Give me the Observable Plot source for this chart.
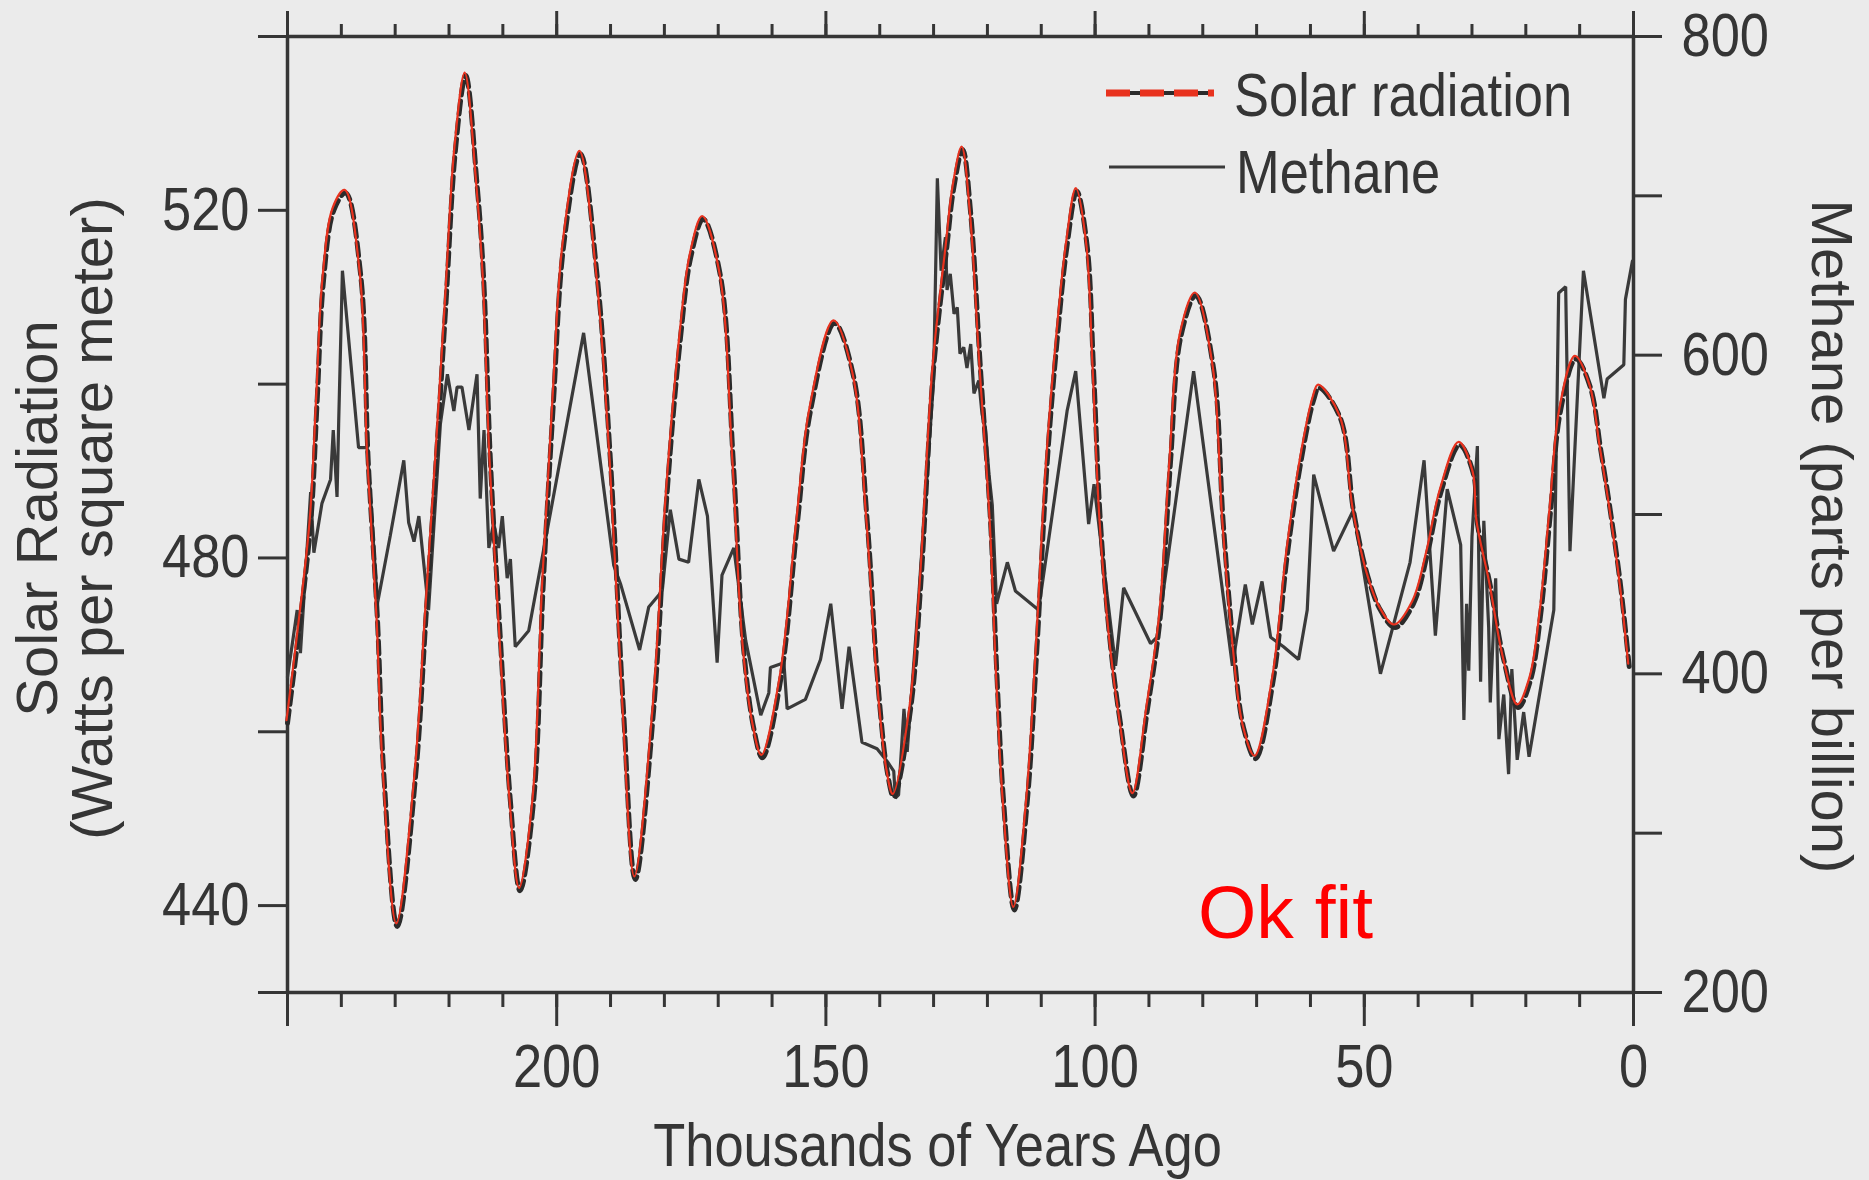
<!DOCTYPE html>
<html><head><meta charset="utf-8">
<script src="https://cdn.jsdelivr.net/npm/d3@7"></script>
<script src="https://cdn.jsdelivr.net/npm/@observablehq/plot@0.6"></script>
<style>
html,body{margin:0;padding:0;background:#ebebeb;width:1869px;height:1180px;overflow:hidden;}
#wrap{position:relative;width:1869px;height:1180px;}
#chart{position:absolute;left:0;top:0;}
#overlay{position:absolute;left:0;top:0;pointer-events:none;}
</style></head>
<body><div id="wrap"><div id="chart"></div>
<svg id="overlay" width="1869" height="1180"></svg></div>
<script>
// ---------- data ----------
const solarAge = [250,248.2,245.7,244.5,243.3,241.4,239.2,236.4,235,233.3,232.1,229.6,226.2,224.3,222.4,220.6,218.8,216.9,214.8,213.6,212.3,210.4,208.6,206.8,204.3,202.5,200.6,198.7,195.6,192.5,190,187.6,185.4,182,179.5,177,175.1,172.8,169.6,167.2,165.3,163.4,161.8,158.4,155.3,152.9,148.4,144.9,142.3,140.4,138.6,137.4,134.3,132.4,130,127.5,126.3,124.6,123.1,121.3,119.4,118.2,117,115,112.6,110.8,108.9,107,105.2,103.4,101.5,100.3,99,97.1,95.3,92.9,90.3,87.9,86,84.1,81.3,78,76.2,74.3,72.4,70.2,66.9,64.3,61.8,59.4,58.4,54.4,52,49.5,47,44.3,40.9,38.3,35.8,32.3,29.7,29,26.6,24.1,21.4,19.1,17.3,15.4,13.6,10.7,8,6.1,4.3,2.4,0.8];
const solarValue = [461,470,484,498,512,520,522,512.5,491,473,455,437.6,455,473,491,509,527,535.5,523,512.5,491,470,452,441.7,452,477,498,516,526.5,512.5,491,462.5,443,462.5,487.5,505.4,514.6,519,512.5,491,469.7,460.4,457,466,484,496.8,507,501,484,466,455.4,452.5,462.5,476.8,501.8,516,522.4,527,519.6,501.8,484,466,452,439.5,452,469.7,491,505.4,516,522.2,516,501.8,484,469.7,461,452.6,462.5,473.2,491,505.4,510.2,501.8,484,469.7,460.4,456.9,466,480.4,491,498.2,499.6,496,485.4,478.2,474,472,474.7,480.4,487.5,493,489.6,484,476.8,468.3,462.8,466,473.2,485.4,496.8,502.9,499.6,492.5,485.4,476.8,467.5];

const methaneAge = [250,248.2,247.6,245.7,245.1,243.6,242,241.5,240.8,240.5,239.8,236.8,235.2,233.3,230.9,228.4,227.5,226.5,225.6,223.8,221.6,220.3,219.1,218.5,217.6,216.3,214.8,214.2,213.5,212.6,211.7,210.8,210.1,209.2,208.6,207.7,205.2,195,189.4,188.1,184.6,182.9,180.4,178.9,177.3,175.5,173.6,172,170.2,169.3,167.1,164.9,162.1,160.6,160.3,157.8,157.2,153.8,151,149.1,147,145.7,143.3,140.5,138.6,137.4,137.1,136.5,135.5,134.9,133,130,129.3,128.6,127.8,127.5,126.9,126.2,125.6,125.1,124.4,123.8,123.1,122.5,121.6,121,120.4,119.7,119.1,118.3,116.3,114.8,110.5,105.2,103.6,101.2,100.2,96.2,94.7,89.7,88.5,81.7,74.5,72.1,70.8,69,67.4,65,62.2,60.6,59.4,55.7,52,47,41.5,38.9,36.8,34.6,32.1,31.5,31,30.6,30,29,28.7,28.4,27.8,26.9,26.6,25.6,25,24.1,23.2,22.6,21.6,20.4,19.4,14.8,13.9,12.6,11.8,9.3,5.5,4.9,1.8,1.5,0.2];
const methanePpb = [398,440,413,514,476,507,522,553,511,557,653,542,542,444,487,534,495,483,499,440,557,588,565,580,580,553,588,510,553,479,495,479,499,460,472,417,427,614,468,456,415,442,452,503,472,470,522,499,407,462,479,421,374,388,404,407,378,384,409,444,378,417,357,353,345,339,322,324,378,351,437,584,711,653,674,641,651,626,630,601,605,592,607,576,584,563,555,525,506,444,470,452,440,565,590,494,519,405,454,419,423,590,405,456,431,458,423,417,409,440,525,477,503,400,470,534,424,516,481,371,444,402,486,543,460,395,496,429,382,460,359,387,337,403,346,376,348,440,639,643,477,653,573,585,594,635,659];

const xDomain = [250, 0];
const solarDomain = [430, 540];
const methaneDomain = [200, 800];
const xMinorTicks = d3.range(0, 251, 10);
const xMajorTicks = [0, 50, 100, 150, 200, 250];
const xLabelTicks = [0, 50, 100, 150, 200];
const solarTicks = [430, 440, 460, 480, 500, 520, 540];
const solarLabelTicks = [440, 480, 520];
const methaneTicks = [200, 300, 400, 500, 600, 700, 800];
const methaneLabelTicks = [200, 400, 600, 800];

const xTitle = "Thousands of Years Ago";
const leftTitle = "Solar Radiation\n(Watts per square meter)";
const rightTitle = "Methane (parts per billion)";
const legendLabels = ["Solar radiation", "Methane"];
const noteText = "Ok fit";

// ---------- build tables ----------
if (solarAge.length !== solarValue.length) throw new Error("solar length mismatch");
if (methaneAge.length !== methanePpb.length) throw new Error("methane length mismatch");
const toSolar = m => solarDomain[0] + (m - methaneDomain[0]) * (solarDomain[1] - solarDomain[0]) / (methaneDomain[1] - methaneDomain[0]);
const solar = solarAge.map((a, i) => ({age: a, value: solarValue[i]}));
const methane = methaneAge.map((a, i) => ({age: a, ppb: methanePpb[i]}));

const FONT = '"Liberation Sans",Arial,Helvetica,sans-serif';
const NARROW_SCALE = 0.86;
const INK = "#353535";
const RED = "#e8321e";

const blank = () => "";
const chart = Plot.plot({
  width: 1869, height: 1180,
  marginLeft: 287, marginRight: 236, marginTop: 36, marginBottom: 188,
  x: {domain: xDomain},
  y: {domain: solarDomain},
  style: {background: "transparent", fontFamily: FONT, fontSize: "61px", color: INK, overflow: "visible"},
  marks: [
    // top ticks
    Plot.axisX({anchor: "top", ticks: xMinorTicks, tickSize: 13, tickFormat: blank, strokeWidth: 3, label: null}),
    Plot.axisX({anchor: "top", ticks: xMajorTicks, tickSize: 26, tickFormat: blank, strokeWidth: 3, label: null}),
    // bottom ticks
    Plot.axisX({anchor: "bottom", ticks: xMinorTicks, tickSize: 15, tickFormat: blank, strokeWidth: 3, label: null}),
    Plot.axisX({anchor: "bottom", ticks: xMajorTicks, tickSize: 34, tickPadding: 17, strokeWidth: 3, label: null,
      tickFormat: d => xLabelTicks.includes(d) ? String(d) : ""}),
    // left axis
    Plot.axisY({anchor: "left", ticks: solarTicks, tickSize: 29, tickPadding: 9, strokeWidth: 3, label: null,
      tickFormat: d => solarLabelTicks.includes(d) ? String(d) : ""}),
    // right axis (methane, mapped to solar units)
    Plot.axisY({anchor: "right", ticks: methaneTicks.map(toSolar), tickSize: 28, tickPadding: 20, strokeWidth: 3, label: null,
      tickFormat: (d, i) => methaneLabelTicks.includes(methaneTicks[i]) ? String(methaneTicks[i]) : ""}),
    // frame
    Plot.ruleX(xDomain, {y1: solarDomain[0], y2: solarDomain[1], stroke: INK, strokeWidth: 3.5}),
    Plot.ruleY(solarDomain, {x1: xDomain[0], x2: xDomain[1], stroke: INK, strokeWidth: 3.5}),
    // methane
    Plot.line(methane, {x: "age", y: d => toSolar(d.ppb), stroke: "#3a3a3a", strokeWidth: 3.2, strokeLinejoin: "miter"}),
    // solar dashed (original) and red fit
    Plot.line(solar, {x: "age", y: "value", curve: "catmull-rom", stroke: "#2b2b2b", strokeWidth: 5, strokeDasharray: "13,6"}),
    Plot.line(solar, {x: "age", y: "value", curve: "catmull-rom", stroke: RED, strokeWidth: 2.2, dy: -3, dx: -1}),
    // titles
    Plot.text([xTitle], {text: d => d, frameAnchor: "bottom", textAnchor: "middle", lineAnchor: "middle",
      dx: -23, dy: 154, fontSize: 61, fill: INK}),
    Plot.text([leftTitle], {text: d => d, frameAnchor: "left", textAnchor: "middle", lineAnchor: "middle",
      rotate: -90, dx: -221, dy: 4, lineHeight: 0.95, fontSize: 58, fill: INK}),
    Plot.text([rightTitle], {text: d => d, frameAnchor: "right", textAnchor: "middle", lineAnchor: "middle",
      rotate: 90, dx: 197, dy: 22, fontSize: 58, fill: INK})
  ]
});
document.getElementById("chart").appendChild(chart);

// horizontal texts in the reference use a condensed face: compress them horizontally
// (keep the x/y attributes Plot set, just append a horizontal scale to the transform)
d3.select(chart).selectAll("text").each(function() {
  const t = d3.select(this);
  const tr = t.attr("transform") || "";
  if (tr.includes("rotate")) return;
  t.attr("transform", `${tr} scale(${NARROW_SCALE},1)`);
});

// ---------- legend & note overlay ----------
const ov = d3.select("#overlay");
ov.append("line").attr("x1", 1106).attr("x2", 1214).attr("y1", 93).attr("y2", 93)
  .attr("stroke", "#2b2b2b").attr("stroke-width", 4);
ov.append("line").attr("x1", 1106).attr("x2", 1214).attr("y1", 93).attr("y2", 93)
  .attr("stroke", RED).attr("stroke-width", 7).attr("stroke-dasharray", "24 10");
ov.append("text").attr("transform", `translate(1234,116) scale(${NARROW_SCALE},1)`)
  .attr("font-family", FONT).attr("font-size", 61).attr("fill", INK).text(legendLabels[0]);
ov.append("line").attr("x1", 1109).attr("x2", 1225).attr("y1", 167).attr("y2", 167)
  .attr("stroke", "#3a3a3a").attr("stroke-width", 3);
ov.append("text").attr("transform", `translate(1236,193) scale(${NARROW_SCALE},1)`)
  .attr("font-family", FONT).attr("font-size", 61).attr("fill", INK).text(legendLabels[1]);
ov.append("text").attr("x", 1198).attr("y", 938).attr("font-family", FONT).attr("font-size", 75)
  .attr("fill", "#ff0000").text(noteText);
</script>
</body></html>
